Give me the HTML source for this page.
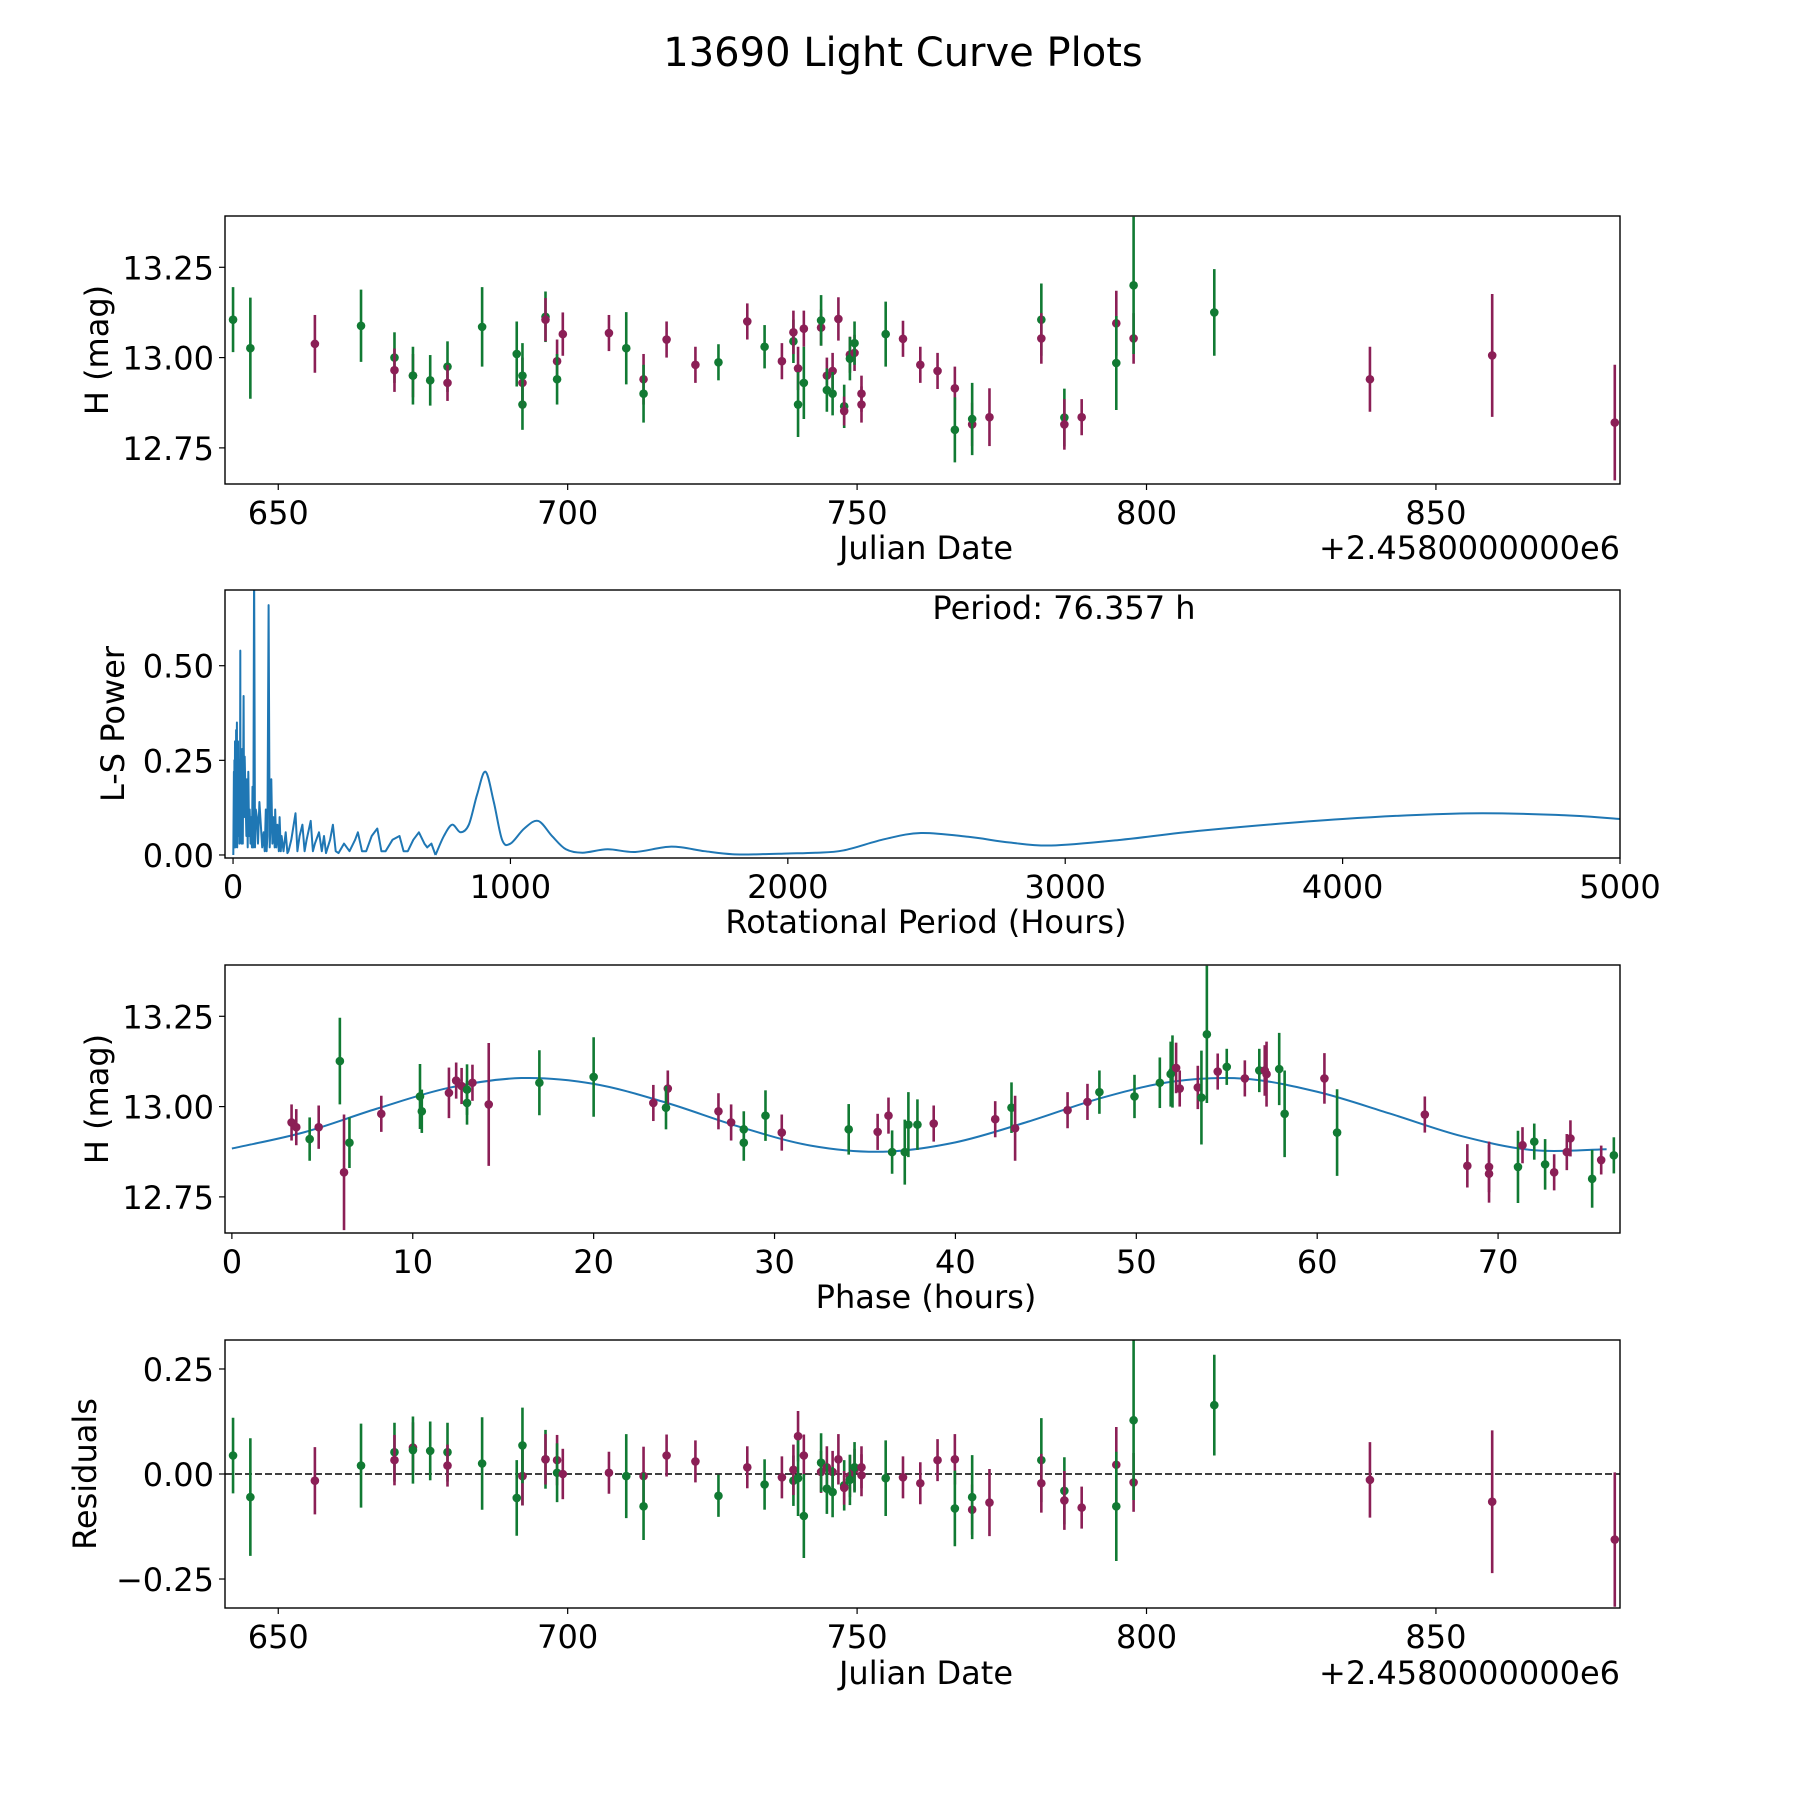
<!DOCTYPE html>
<html><head><meta charset="utf-8"><style>
html,body{margin:0;padding:0;background:#fff}
svg{display:block;font-family:"DejaVu Sans","Liberation Sans",sans-serif}
</style></head><body>
<svg id="fig" width="1800" height="1800" viewBox="0 0 1800 1800">
<text x="903" y="66" font-size="40" text-anchor="middle">13690 Light Curve Plots</text>
</svg>
<script>
// ---- observation data (Julian date offset, magnitude, error, band, residual)
const jd=[642.19,645.18,656.33,664.3,670.08,670.08,673.27,673.27,676.25,679.24,679.24,685.22,691.2,692.19,692.19,692.19,696.17,696.17,698.17,698.17,699.16,707.13,710.12,713.11,713.11,717.09,722.07,726.05,731.03,734.02,737.01,739.0,739.0,739.8,739.8,740.8,740.8,743.78,743.78,744.78,744.78,745.77,745.77,746.77,747.77,747.77,748.76,748.76,749.56,749.56,750.76,750.76,754.94,757.93,760.92,763.9,766.89,766.89,769.88,769.88,772.87,781.83,781.83,785.81,785.81,788.8,794.78,794.78,797.77,797.77,811.71,838.6,859.72,880.9];
const mag=[13.105,13.026,13.038,13.088,13.0,12.965,12.95,12.95,12.937,12.975,12.93,13.085,13.01,12.87,12.93,12.95,13.113,13.105,12.99,12.94,13.065,13.068,13.026,12.94,12.90,13.05,12.98,12.987,13.10,13.03,12.99,13.045,13.07,12.97,12.87,13.08,12.93,13.083,13.103,12.95,12.91,12.963,12.90,13.107,12.865,12.852,13.008,12.997,13.013,13.04,12.90,12.87,13.065,13.052,12.98,12.963,12.915,12.80,12.815,12.83,12.835,13.105,13.053,12.834,12.815,12.835,13.095,12.985,13.053,13.20,13.125,12.94,13.006,12.82];
const err=[0.09,0.14,0.08,0.10,0.07,0.06,0.06,0.08,0.07,0.07,0.05,0.11,0.09,0.07,0.07,0.09,0.07,0.06,0.06,0.07,0.06,0.05,0.10,0.07,0.08,0.05,0.05,0.05,0.05,0.06,0.05,0.06,0.06,0.06,0.09,0.05,0.10,0.05,0.07,0.05,0.06,0.05,0.06,0.06,0.06,0.04,0.05,0.06,0.05,0.06,0.05,0.05,0.09,0.05,0.05,0.05,0.06,0.09,0.06,0.10,0.08,0.10,0.07,0.08,0.07,0.05,0.09,0.13,0.07,0.19,0.12,0.09,0.17,0.16];
const band=['G','G','M','G','G','M','M','G','G','G','M','G','G','G','M','G','G','M','M','G','M','M','G','M','G','M','M','G','M','G','M','G','M','M','G','M','G','M','G','M','G','M','G','M','G','M','M','G','M','G','M','M','G','M','M','M','M','G','M','G','M','G','M','G','M','M','M','G','M','G','G','M','M','M'];
const resid=[0.044,-0.055,-0.016,0.02,0.052,0.033,0.063,0.057,0.055,0.052,0.02,0.025,-0.057,-0.005,-0.005,0.068,0.035,0.035,0.033,0.003,0.0,0.003,-0.005,-0.005,-0.077,0.044,0.03,-0.052,0.016,-0.025,-0.008,-0.016,0.01,0.09,-0.01,0.044,-0.1,0.005,0.027,0.016,-0.035,0.005,-0.043,0.035,-0.027,-0.033,-0.005,-0.014,0.01,0.016,-0.003,0.016,-0.01,-0.008,-0.022,0.033,0.035,-0.082,-0.085,-0.055,-0.068,0.033,-0.022,-0.04,-0.063,-0.08,0.022,-0.077,-0.02,0.128,0.164,-0.014,-0.066,-0.156];
// ---- phased data
const phaseH=[3.3,3.56,4.3,4.8,5.97,6.2,6.5,8.26,10.4,10.5,12.0,12.4,12.7,13.0,13.3,13.0,14.2,17.0,20.0,23.3,24.1,24.0,26.9,27.6,28.3,28.3,30.4,29.5,34.1,35.7,36.3,36.5,37.2,37.4,37.9,38.8,42.2,43.1,43.3,46.2,47.3,47.96,49.9,51.3,51.9,52.0,52.2,52.4,53.4,53.6,53.9,54.5,55.0,56.0,56.8,57.1,57.2,57.9,58.2,60.4,61.1,65.95,68.3,69.5,69.5,71.1,71.35,72.0,72.6,73.1,73.8,74.0,75.2,75.7,76.4];
const phaseMag=[12.956,12.943,12.91,12.943,13.126,12.818,12.9,12.98,13.028,12.987,13.038,13.072,13.057,13.047,13.066,13.01,13.006,13.066,13.082,13.01,13.05,12.997,12.987,12.956,12.937,12.9,12.928,12.975,12.937,12.93,12.975,12.874,12.874,12.95,12.95,12.953,12.965,12.997,12.94,12.99,13.013,13.04,13.028,13.066,13.09,13.097,13.107,13.05,13.053,13.025,13.2,13.097,13.11,13.078,13.1,13.1,13.09,13.104,12.98,13.078,12.928,12.978,12.836,12.833,12.814,12.833,12.893,12.903,12.84,12.818,12.874,12.912,12.8,12.852,12.865];
const phaseErr=[0.05,0.05,0.06,0.06,0.12,0.16,0.07,0.05,0.09,0.06,0.07,0.05,0.05,0.07,0.05,0.06,0.17,0.09,0.11,0.05,0.05,0.06,0.05,0.05,0.05,0.05,0.05,0.07,0.07,0.05,0.05,0.06,0.09,0.09,0.07,0.05,0.05,0.07,0.09,0.05,0.05,0.06,0.06,0.07,0.09,0.1,0.07,0.05,0.06,0.13,0.19,0.05,0.05,0.05,0.06,0.07,0.09,0.1,0.12,0.07,0.12,0.05,0.06,0.07,0.08,0.1,0.05,0.05,0.07,0.05,0.05,0.05,0.08,0.04,0.05];
const phaseBand=['M','M','G','M','G','M','G','M','G','G','M','M','M','G','M','G','M','G','G','M','M','G','M','M','G','G','M','G','G','M','M','G','G','G','G','M','M','G','M','M','M','G','G','G','G','G','M','M','M','G','G','M','G','M','G','M','M','G','G','M','G','M','M','M','M','G','M','G','G','M','M','M','G','M','G'];
const modelPhase=[0,4,8,12,16,20,24,28,32,36,40,44,48,52,56,60,64,68,72,76];
const modelMag=[12.884,12.929,12.994,13.052,13.079,13.063,13.011,12.945,12.892,12.875,12.901,12.958,13.023,13.069,13.077,13.041,12.981,12.918,12.879,12.882];
// ---- periodogram: spiky short-period part and smooth long-period part
const perH=[1,3,4,5,6,7,8,9,10,11,12,13,14,15,16,17,18,19,20,21,22,23,24,25,26,27,28,29,30,31,33,35,38,40,42,45,48,50,53,55,58,60,63,65,68,70,73,76,79,82,86,90,95,100,105,110,114,118,121,124,128,132,135,138,142,145,150,152,156,160,165,168,172,175,182,190,196,200,210,225,232,240,250,258,265,280,288,295,310,320,328,335,350,360,370,380,400,420,440,450,465,480,500,520,535,550,575,600,615,630,650,670,690,700,715,730];
const perPow=[0,0.22,0.02,0.25,0.05,0.3,0.02,0.28,0.04,0.33,0.1,0.2,0.35,0.02,0.28,0.05,0.3,0.12,0.08,0.2,0.25,0.03,0.22,0.1,0.54,0.05,0.1,0.2,0.03,0.2,0.28,0.03,0.42,0.1,0.26,0.15,0.05,0.2,0.02,0.22,0.05,0.12,0.03,0.1,0.02,0.18,0.02,0.78,0.02,0.12,0.1,0.03,0.14,0.08,0.02,0.06,0.01,0.12,0.01,0.05,0.66,0.02,0.08,0.2,0.03,0.1,0.02,0.12,0.02,0.08,0.01,0.1,0.01,0.05,0.01,0.06,0.005,0.01,0.04,0.11,0.01,0.05,0.08,0.01,0.04,0.09,0.01,0.03,0.06,0.01,0.05,0.005,0.04,0.08,0.01,0.005,0.03,0.01,0.04,0.06,0.01,0.01,0.05,0.07,0.01,0.01,0.04,0.05,0.01,0.01,0.04,0.06,0.03,0.02,0.03,0.0];
const perSmoothH=[730,760,790,820,850,880,910,940,970,1000,1050,1100,1150,1200,1260,1350,1450,1580,1700,1800,1900,2000,2100,2200,2350,2480,2650,2800,2950,3200,3500,4000,4450,4800,5000];
const perSmoothPow=[0.0,0.05,0.08,0.06,0.08,0.16,0.22,0.14,0.04,0.03,0.07,0.09,0.05,0.015,0.006,0.015,0.008,0.022,0.01,0.002,0.002,0.004,0.006,0.012,0.042,0.058,0.048,0.033,0.025,0.04,0.065,0.095,0.11,0.105,0.095];
const jdTicks=[650,700,750,800,850];
const magTicks=[12.75,13.0,13.25];
const magTickLabels=['12.75','13.00','13.25'];
const perTicks=[0,1000,2000,3000,4000,5000];
const powTicks=[0,0.25,0.5];
const powTickLabels=['0.00','0.25','0.50'];
const phTicks=[0,10,20,30,40,50,60,70];
const resTicks=[-0.25,0,0.25];
const resTickLabels=['\u22120.25','0.00','0.25'];

const NS='http://www.w3.org/2000/svg';
const svg=document.getElementById('fig');
const COL={G:'#117a33',M:'#8b1f56'};
const FS=32;
function el(tag,attrs,parent){const e=document.createElementNS(NS,tag);for(const k in attrs)e.setAttribute(k,attrs[k]);(parent||svg).appendChild(e);return e;}
const L=225,R=1620,H=268;
function makeAxes(name,top,xmin,xmax,ymin,ymax){
  const g=el('g',{});
  
  
  const sx=v=>L+(v-xmin)/(xmax-xmin)*(R-L);
  const sy=v=>top+H-(v-ymin)/(ymax-ymin)*H;
  const cid='clip-'+name;
  const cp=el('clipPath',{id:cid},g);el('rect',{x:L,y:top,width:R-L,height:H},cp);
  const plot=el('g',{'clip-path':'url(#'+cid+')'},g);
  return {g,plot,sx,sy,top};
}
function frame(ax){const r=el('rect',{x:L,y:ax.top,width:R-L,height:H,fill:'none',stroke:'#000','stroke-width':1.4},ax.g);}
function xticks(ax,ticks,labels){ticks.forEach((t,i)=>{const x=ax.sx(t);el('line',{x1:x,x2:x,y1:ax.top+H,y2:ax.top+H+6,stroke:'#000','stroke-width':1.2},ax.g);const tx=el('text',{x:x,y:ax.top+H+40,'font-size':FS,'text-anchor':'middle'},ax.g);tx.textContent=labels?labels[i]:String(t);});}
function yticks(ax,ticks,labels){ticks.forEach((t,i)=>{const y=ax.sy(t);el('line',{x1:L,x2:L-6,y1:y,y2:y,stroke:'#000','stroke-width':1.2},ax.g);const tx=el('text',{x:L-11,y:y+12,'font-size':FS,'text-anchor':'end'},ax.g);tx.textContent=labels?labels[i]:String(t);});}
function label(txt,x,y,rot,name){const t=el('text',{x:x,y:y,'font-size':FS,'text-anchor':'middle',transform:rot?`rotate(-90 ${x} ${y})`:''});t.textContent=txt;return t;}
function point(ax,x,y,e,b){const c=COL[b];const ln=el('line',{x1:ax.sx(x),x2:ax.sx(x),y1:ax.sy(y-e),y2:ax.sy(y+e),stroke:c,'stroke-width':2.6},ax.plot);const p=el('circle',{cx:ax.sx(x),cy:ax.sy(y),r:4.3,fill:c},ax.plot);}
function catmull(pts){let d='M'+pts[0][0]+','+pts[0][1];for(let i=0;i<pts.length-1;i++){const p0=pts[Math.max(0,i-1)],p1=pts[i],p2=pts[i+1],p3=pts[Math.min(pts.length-1,i+2)];d+=` C${p1[0]+(p2[0]-p0[0])/6},${p1[1]+(p2[1]-p0[1])/6} ${p2[0]-(p3[0]-p1[0])/6},${p2[1]-(p3[1]-p1[1])/6} ${p2[0]},${p2[1]}`;}return d;}

// Panel 1
const a1=makeAxes('light-curve-panel',216,640.8,881.8,12.65,13.392);
jd.forEach((d,i)=>point(a1,d,mag[i],err[i],band[i]));
frame(a1);xticks(a1,jdTicks);yticks(a1,magTicks,magTickLabels);
label('Julian Date',926,559,false,'x-axis-title');
const o1=el('text',{x:1620,y:559,'font-size':FS,'text-anchor':'end'});o1.textContent='+2.4580000000e6';
label('H (mag)',108,350,true,'y-axis-title');

// Panel 2
const a2=makeAxes('periodogram-panel',590,-29,5000,-0.008,0.70);
const dpts=perH.map((p,i)=>a2.sx(p).toFixed(1)+','+a2.sy(perPow[i]).toFixed(1)).join(' ');
const pl=el('polyline',{points:dpts,fill:'none',stroke:'#1f77b4','stroke-width':2,'stroke-linejoin':'round'},a2.plot);

const ps=el('path',{d:catmull(perSmoothH.map((p,i)=>[a2.sx(p),a2.sy(perSmoothPow[i])])),fill:'none',stroke:'#1f77b4','stroke-width':2},a2.plot);

frame(a2);xticks(a2,perTicks);yticks(a2,powTicks,powTickLabels);
label('Rotational Period (Hours)',926,933,false,'x-axis-title');
label('L-S Power',124,724,true,'y-axis-title');
const pt=el('text',{x:1064,y:619,'font-size':FS,'text-anchor':'middle'});pt.textContent='Period: 76.357 h';

// Panel 3
const a3=makeAxes('phased-panel',965,-0.38,76.74,12.65,13.392);
const mp=el('path',{d:catmull(modelPhase.map((p,i)=>[a3.sx(p),a3.sy(modelMag[i])])),fill:'none',stroke:'#1f77b4','stroke-width':2},a3.plot);

phaseH.forEach((p,i)=>point(a3,p,phaseMag[i],phaseErr[i],phaseBand[i]));
frame(a3);xticks(a3,phTicks);yticks(a3,magTicks,magTickLabels);
label('Phase (hours)',926,1308,false,'x-axis-title');
label('H (mag)',108,1099,true,'y-axis-title');

// Panel 4
const a4=makeAxes('residuals-panel',1340,640.8,881.8,-0.319,0.319);
const zl=el('line',{x1:L,x2:R,y1:a4.sy(0),y2:a4.sy(0),stroke:'#000','stroke-width':1.6,'stroke-dasharray':'7,3'},a4.plot);

jd.forEach((d,i)=>point(a4,d,resid[i],err[i],band[i]));
frame(a4);xticks(a4,jdTicks);yticks(a4,resTicks,resTickLabels);
label('Julian Date',926,1684,false,'x-axis-title');
const o4=el('text',{x:1620,y:1684,'font-size':FS,'text-anchor':'end'});o4.textContent='+2.4580000000e6';
label('Residuals',96,1474,true,'y-axis-title');
</script>
</body></html>
